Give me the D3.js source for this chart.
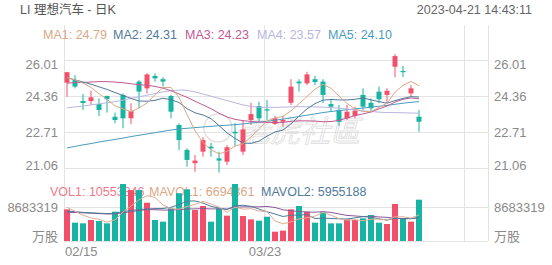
<!DOCTYPE html>
<head>
  <meta charset="utf-8">
  <script src="https://d3js.org/d3.v7.min.js"></script>
  <style>
    body { margin: 0; background: #fff; }
    text { font-family: "Liberation Sans", Arial, "Noto Sans CJK SC", sans-serif; }
  </style>
</head>
<body>
  <script>
    // candles, one per trading day (02/15 .. 04/20)
    var open  = [24.97,25.09,24.13,24.13,23.99,24.36,23.41,24.41,23.34,25.02,24.71,25.28,25.13,24.36,23.03,21.89,21.28,21.81,22.04,21.50,21.35,22.72,21.81,23.26,23.90,23.75,23.08,23.18,24.05,25.02,24.94,25.13,25.02,23.99,23.72,23.34,23.44,24.41,24.05,24.56,24.41,25.70,25.51,24.48,23.41];
    var high  = [25.47,25.32,24.45,24.60,24.25,24.38,23.60,24.48,24.03,25.09,25.40,25.40,25.22,24.41,23.11,21.96,21.66,22.47,22.22,21.81,22.11,23.11,23.26,24.05,24.10,24.18,23.44,23.44,25.13,25.13,25.47,25.28,25.13,24.18,23.95,23.95,23.87,24.71,24.25,24.79,24.71,26.28,25.74,24.86,23.72];
    var low   = [24.33,24.71,23.72,23.95,23.44,23.60,23.11,22.88,23.08,23.80,24.48,25.02,24.79,23.34,21.89,21.12,20.89,21.58,21.58,20.85,21.20,22.04,21.66,23.03,23.18,23.26,23.03,22.93,23.95,24.56,24.86,24.86,24.03,23.64,22.99,23.26,23.34,23.72,23.60,24.03,24.03,25.22,25.22,24.36,22.72];
    var close = [25.45,24.79,24.04,24.30,23.72,24.21,23.26,23.34,23.67,24.56,25.35,25.17,25.02,23.64,22.34,21.43,21.40,22.34,21.96,21.40,22.01,22.65,22.83,23.53,23.34,23.69,23.34,23.26,24.79,24.94,25.35,25.00,24.41,23.87,23.18,23.64,23.69,23.87,23.80,24.21,24.60,26.19,25.45,24.71,23.18];

    // moving averages
    var ma1 = [25.20,25.10,24.95,24.75,24.46,24.21,23.91,23.77,23.64,23.81,24.04,24.42,24.75,24.75,24.30,23.52,22.77,22.23,21.89,21.71,21.82,22.07,22.17,22.48,22.87,23.21,23.35,23.43,23.68,24.00,24.34,24.67,24.90,24.71,24.36,24.02,23.76,23.65,23.64,23.84,24.03,24.53,24.85,25.03,24.83];
    var ma2 = [25.20,25.10,25.00,24.90,24.78,24.66,24.52,24.38,24.25,24.13,24.12,24.16,24.26,24.19,24.06,23.78,23.59,23.49,23.32,23.01,22.67,22.42,22.20,22.19,22.29,22.52,22.71,22.80,23.08,23.44,23.77,24.01,24.17,24.20,24.18,24.18,24.21,24.27,24.18,24.10,24.03,24.15,24.25,24.33,24.31];
    var ma3 = [24.95,24.97,24.98,25.00,25.02,25.02,25.00,24.97,24.92,24.88,24.85,24.80,24.72,24.60,24.45,24.30,24.12,23.95,23.78,23.57,23.40,23.29,23.23,23.19,23.17,23.15,23.15,23.15,23.20,23.22,23.22,23.21,23.18,23.19,23.24,23.35,23.46,23.54,23.63,23.77,23.90,24.08,24.21,24.27,24.23];
    var ma4 = [23.82,23.86,23.90,23.95,24.00,24.05,24.10,24.17,24.25,24.32,24.40,24.47,24.55,24.60,24.63,24.62,24.55,24.45,24.35,24.25,24.15,24.05,23.95,23.88,23.85,23.84,23.84,23.85,23.86,23.87,23.87,23.86,23.85,23.83,23.80,23.76,23.72,23.68,23.65,23.62,23.60,23.60,23.59,23.58,23.57];
    var ma5 = [21.98,22.05,22.12,22.18,22.25,22.31,22.37,22.43,22.50,22.56,22.62,22.68,22.74,22.80,22.85,22.88,22.91,22.94,22.97,23.00,23.02,23.05,23.08,23.12,23.16,23.20,23.25,23.30,23.36,23.42,23.48,23.54,23.60,23.65,23.69,23.73,23.77,23.81,23.85,23.89,23.93,23.98,24.03,24.07,24.10];

    // volume in millions of shares
    var vol = [8.09,4.68,4.51,5.36,5.11,4.51,7.49,14.56,13.0,13.0,9.78,5.36,4.94,8.34,12.2,13.2,7.92,8.94,4.94,8.34,6.47,14.56,6.38,5.53,5.19,6.2,2.38,2.64,8.09,8.94,7.49,4.68,7.32,4.51,4.51,5.53,5.36,5.79,6.64,4.68,4.34,9.45,5.79,4.94,10.553346];
    var mavol1 = [8.6,7.6,6.6,5.9,5.55,4.83,5.40,7.41,8.93,10.51,11.57,11.14,9.22,8.28,8.12,8.81,9.32,10.12,9.44,8.67,7.32,8.65,8.14,8.26,7.63,7.57,5.14,4.39,4.90,5.65,5.91,6.37,7.30,6.59,5.70,5.31,5.45,5.14,5.57,5.60,5.36,6.18,6.18,5.84,6.69];
    var mavol2 = [7.6,7.5,7.3,7.2,7.1,7.0,7.1,7.5,7.8,8.03,8.20,8.27,8.31,8.61,9.32,10.19,10.23,9.67,8.86,8.40,8.07,8.99,9.13,8.85,8.15,7.45,6.89,6.26,6.58,6.64,6.74,5.75,5.85,5.74,5.68,5.61,5.91,6.22,6.08,5.65,5.34,5.81,5.66,5.70,5.96];
    var mavol3 = [7.3,7.3,7.2,7.1,7.0,6.9,6.9,7.2,7.5,7.8,8.0,8.0,7.9,7.9,8.0,8.2,8.2,8.3,8.2,8.21,8.13,8.63,8.72,8.73,8.73,8.82,8.56,7.97,7.72,7.52,7.40,7.37,7.49,7.30,6.91,6.53,6.40,6.24,6.33,6.14,6.04,5.78,5.75,5.72,5.99];

    var priceTicks = [26.01, 24.36, 22.71, 21.06];
    var volTick = 8683319;
    var dateLabels = [{i: 0, t: "02/15"}, {i: 25, t: "03/23"}];
    var maNames = ["MA1", "MA2", "MA3", "MA4", "MA5"];
    var maLast = ["24.79", "24.31", "24.23", "23.57", "24.10"];
    var volNames = ["VOL1", "MAVOL1", "MAVOL2"];
    var volLast = ["10553346", "6694361", "5955188"];

    var up = "#f2506a", down = "#17b3a3";
    var maColors = ["#d9a887", "#4f7a9a", "#c05a93", "#b9b6e2", "#4a9cc0"];
    var volColors = ["#f07a8c", "#d9a887", "#4f7a9a"];
    var grid = "#e3e3e3", label = "#8a8a8a";

    var width = 552, height = 265;
    var left = 64, right = 488;

    var svg = d3.select("body").append("svg")
      .attr("width", width)
      .attr("height", height);

    var x = d3.scaleLinear().domain([0, 50]).range([64, 464]);
    var y = d3.scaleLinear().domain([21.06, 26.01]).range([168, 60]);
    var yv = d3.scaleLinear().domain([0, volTick / 1e6]).range([241, 207]);

    // grid
    svg.append("g")
      .attr("transform", "translate(" + right + ",0)")
      .call(d3.axisLeft(y).tickValues(priceTicks).tickSize(right - left).tickFormat(""))
      .call(function(g) { g.select(".domain").remove(); g.selectAll("line").attr("stroke", grid); });

    [0, 25, 50, 53].forEach(function(i) {
      svg.append("line")
        .attr("x1", Math.round(x(i)) + 0.5).attr("x2", Math.round(x(i)) + 0.5)
        .attr("y1", 25).attr("y2", 241)
        .attr("stroke", grid);
    });
    [volTick / 1e6, 0].forEach(function(v) {
      svg.append("line")
        .attr("x1", left).attr("x2", right)
        .attr("y1", yv(v) + 0.5).attr("y2", yv(v) + 0.5)
        .attr("stroke", grid);
    });

    // watermark
    svg.append("text")
      .attr("x", 240).attr("y", 142)
      .attr("font-size", 30)
      .attr("font-style", "italic")
      .attr("fill", "none")
      .attr("stroke", "#dcdcdc")
      .attr("stroke-width", 0.8)
      .style("font-family", "'Noto Sans CJK TC'")
      .text("老虎社區");
    svg.append("circle")
      .attr("cx", 218).attr("cy", 128).attr("r", 14)
      .attr("fill", "none").attr("stroke", "#e2e2e2").attr("stroke-width", 1.5);

    // price axis labels, both sides
    function priceLabels(g, anchor, xpos) {
      g.selectAll("text").data(priceTicks).enter().append("text")
        .attr("x", xpos)
        .attr("y", function(d, i) { return y(d) + (i == 0 ? 4 : i == priceTicks.length - 1 ? -3 : 0); })
        .attr("dy", "0.35em")
        .attr("text-anchor", anchor)
        .attr("font-size", 13)
        .attr("fill", label)
        .text(function(d) { return d.toFixed(2); });
    }
    svg.append("g").call(priceLabels, "end", 58);
    svg.append("g").call(priceLabels, "start", 494);

    // volume axis labels
    [["end", 58], ["start", 494]].forEach(function(s) {
      svg.append("text")
        .attr("x", s[1]).attr("y", yv(volTick / 1e6)).attr("dy", "0.35em")
        .attr("text-anchor", s[0]).attr("font-size", 13).attr("fill", label)
        .text(volTick);
      svg.append("text")
        .attr("x", s[1]).attr("y", 236).attr("dy", "0.35em")
        .attr("text-anchor", s[0]).attr("font-size", 13).attr("fill", label)
        .style("font-family", "'Noto Sans CJK SC'")
        .text("万股");
    });

    // date labels
    svg.selectAll(".date").data(dateLabels).enter().append("text")
      .attr("class", "date")
      .attr("x", function(d) { return d.i == 0 ? x(d.i) + 1 : x(d.i) + 1; })
      .attr("y", 256)
      .attr("text-anchor", function(d) { return d.i == 0 ? "start" : "middle"; })
      .attr("font-size", 13)
      .attr("fill", label)
      .text(function(d) { return d.t; });

    // title
    svg.append("text").attr("x", 20).attr("y", 14)
      .attr("font-size", 12.5).attr("fill", "#555")
      .text("LI 理想汽车 - 日K");
    svg.append("text").attr("x", 532).attr("y", 14)
      .attr("text-anchor", "end")
      .attr("font-size", 12.5).attr("fill", "#666")
      .text("2023-04-21  14:43:11");

    // MA legend
    var maX = [43, 113, 185, 257, 328];
    maNames.forEach(function(n, i) {
      svg.append("text").attr("x", maX[i]).attr("y", 39)
        .attr("font-size", 12.5).attr("fill", maColors[i])
        .text(n + ": " + maLast[i]);
    });

    // volume legend (under the bars)
    var volX = [50, 149, 261];
    volNames.forEach(function(n, i) {
      svg.append("text").attr("x", volX[i]).attr("y", 196)
        .attr("font-size", 12.5).attr("fill", volColors[i])
        .text(n + ": " + volLast[i]);
    });

    var idx = d3.range(open.length);

    // volume bars
    svg.selectAll(".vbar").data(idx).enter().append("rect")
      .attr("class", "vbar")
      .attr("x", function(i) { return x(i); })
      .attr("y", function(i) { return yv(vol[i]); })
      .attr("width", 6)
      .attr("height", function(i) { return yv(0) - yv(vol[i]); })
      .attr("fill", function(i) { return close[i] >= open[i] ? up : down; });

    var vline = d3.line().x(function(d, i) { return x(i) + 3; }).y(function(d) { return yv(d); });
    [[mavol3, "#8a5a9a"], [mavol2, "#4f7a9a"], [mavol1, "#e0ad98"]].forEach(function(s) {
      svg.append("path").datum(s[0])
        .attr("d", vline).attr("fill", "none")
        .attr("stroke", s[1]).attr("stroke-width", 1);
    });

    // candles
    var c = svg.selectAll(".candle").data(idx).enter().append("g").attr("class", "candle");
    c.append("line")
      .attr("x1", function(i) { return x(i) + 3; })
      .attr("x2", function(i) { return x(i) + 3; })
      .attr("y1", function(i) { return y(high[i]); })
      .attr("y2", function(i) { return y(low[i]); })
      .attr("stroke", function(i) { return close[i] >= open[i] ? up : down; });
    c.append("rect")
      .attr("x", function(i) { return x(i) + 0.5; })
      .attr("y", function(i) { return y(Math.max(open[i], close[i])); })
      .attr("width", 5)
      .attr("height", function(i) { return Math.max(1, Math.abs(y(open[i]) - y(close[i]))); })
      .attr("fill", function(i) { return close[i] >= open[i] ? up : down; });

    // MA lines
    var line = d3.line().x(function(d, i) { return x(i) + 3; }).y(function(d) { return y(d); });
    [ma5, ma4, ma3, ma2, ma1].forEach(function(s, k) {
      svg.append("path").datum(s)
        .attr("d", line).attr("fill", "none")
        .attr("stroke", maColors[4 - k]).attr("stroke-width", 1);
    });
  </script>
</body>
